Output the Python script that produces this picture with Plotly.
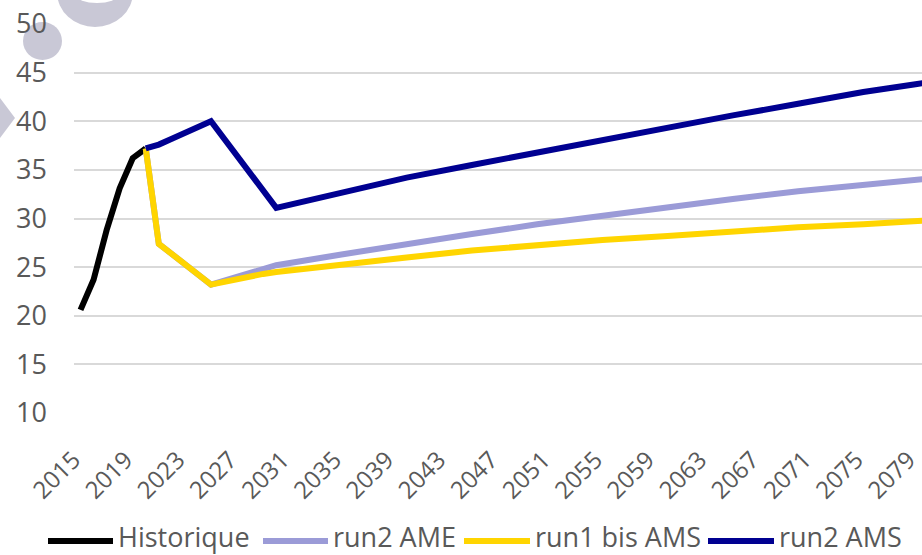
import plotly.graph_objects as go

# ---- data ----
hist_years = [2015, 2016, 2017, 2018, 2019, 2020]
hist_vals = [20.6, 23.7, 28.8, 33.1, 36.2, 37.2]

ame_years = [2020, 2021, 2025, 2026, 2027, 2028, 2029, 2030, 2035, 2040, 2045, 2050,
             2055, 2060, 2065, 2070, 2075, 2079, 2080]
ame_vals = [37.2, 27.4, 23.2, 23.6, 24.0, 24.4, 24.8, 25.2, 26.3, 27.4, 28.4, 29.4,
            30.3, 31.2, 32.0, 32.8, 33.5, 34.0, 34.1]

run1_years = [2020, 2021, 2025, 2026, 2027, 2028, 2029, 2030, 2035, 2040, 2045, 2050,
              2055, 2060, 2065, 2070, 2075, 2079, 2080]
run1_vals = [37.2, 27.4, 23.2, 23.5, 23.8, 24.0, 24.3, 24.5, 25.3, 26.0, 26.7, 27.3,
             27.8, 28.2, 28.7, 29.1, 29.4, 29.7, 29.8]

ams_years = [2020, 2021, 2022, 2023, 2024, 2025, 2030, 2035, 2040, 2045, 2050,
             2055, 2060, 2065, 2070, 2075, 2079, 2080]
ams_vals = [37.2, 37.6, 38.2, 38.8, 39.4, 40.0, 31.1, 32.7, 34.2, 35.5, 36.8,
            38.0, 39.4, 40.6, 41.8, 43.0, 43.8, 44.0]

series_names = ["Historique", "run2 AME", "run1 bis AMS", "run2 AMS"]
series_colors = ["#000000", "#9B9BD7", "#FFD500", "#000091"]
series_x = [hist_years, ame_years, run1_years, ams_years]
series_y = [hist_vals, ame_vals, run1_vals, ams_vals]

tick_years = list(range(2015, 2080, 4))
y_ticks = [10, 15, 20, 25, 30, 35, 40, 45, 50]

FONT = "Open Sans"
TXT = "#595959"
FS = 27
FSX = 24

fig = go.Figure()
for name, col, xs, ys in zip(series_names, series_colors, series_x, series_y):
    fig.add_trace(go.Scatter(x=xs, y=ys, name=name, mode="lines",
                             line=dict(color=col, width=6), showlegend=False,
                             hoverinfo="x+y+name"))

# plot geometry (pixels)
W, H = 922, 555
L, R, T, B = 74, 0, 24, 142
pw, ph = W - L - R, H - T - B


def px(xp):
    return (xp - L) / pw


def py(yp):
    return (H - B - yp) / ph


shapes = []
wm = "#C9C8D6"
# watermark decoration (top-left)
shapes.append(dict(type="circle", xref="paper", yref="paper", layer="below",
                   x0=px(57), x1=px(133), y0=py(27), y1=py(-43),
                   fillcolor=wm, line=dict(width=0)))
shapes.append(dict(type="circle", xref="paper", yref="paper", layer="below",
                   x0=px(76), x1=px(118), y0=py(3), y1=py(-13),
                   fillcolor="white", line=dict(width=0)))
shapes.append(dict(type="circle", xref="paper", yref="paper", layer="below",
                   x0=px(23), x1=px(62), y0=py(60), y1=py(22),
                   fillcolor=wm, line=dict(width=0)))
shapes.append(dict(type="path", xref="paper", yref="paper", layer="below",
                   path=f"M {px(0)},{py(98)} L {px(15)},{py(118)} L {px(0)},{py(138)} Z",
                   fillcolor=wm, line=dict(width=0)))

# custom legend
leg_y = 541
leg_lines = [(48, 113), (263, 328), (464, 530), (708, 774)]
annotations = []
for (x0, x1), name, col in zip(leg_lines, series_names, series_colors):
    shapes.append(dict(type="line", xref="paper", yref="paper",
                       x0=px(x0), x1=px(x1), y0=py(leg_y), y1=py(leg_y),
                       line=dict(color=col, width=6)))
    annotations.append(dict(xref="paper", yref="paper", x=px(x1 + 4), y=py(556),
                            xanchor="left", yanchor="bottom", showarrow=False,
                            borderpad=0,
                            text=name, font=dict(family=FONT, size=FS, color=TXT)))

fig.update_layout(
    width=W, height=H,
    margin=dict(l=L, r=R, t=T, b=B, autoexpand=False),
    paper_bgcolor="white", plot_bgcolor="white",
    shapes=shapes, annotations=annotations,
    font=dict(family=FONT, color=TXT, size=FS),
    xaxis=dict(range=[2014.5, 2079.5], tickmode="array", tickvals=tick_years,
               ticktext=[str(v) for v in tick_years], tickangle=-45,
               showgrid=False, zeroline=False, showline=False, ticks="",
               ticklabelstandoff=27, ticklabelshift=-7, automargin=False,
               ticklabeloverflow="allow",
               tickfont=dict(family=FONT, size=FSX, color=TXT)),
    yaxis=dict(range=[10, 50], tickmode="array", tickvals=y_ticks,
               showgrid=True, gridcolor="#D9D9D9", gridwidth=2, zeroline=False,
               showline=False, ticks="", ticklabelstandoff=26, automargin=False,
               tickfont=dict(family=FONT, size=FS, color=TXT)),
)

fig.write_html("out.html", config={"displayModeBar": False},
               post_script="document.body.style.margin='0px';"
                           "document.body.style.overflow='hidden';")
